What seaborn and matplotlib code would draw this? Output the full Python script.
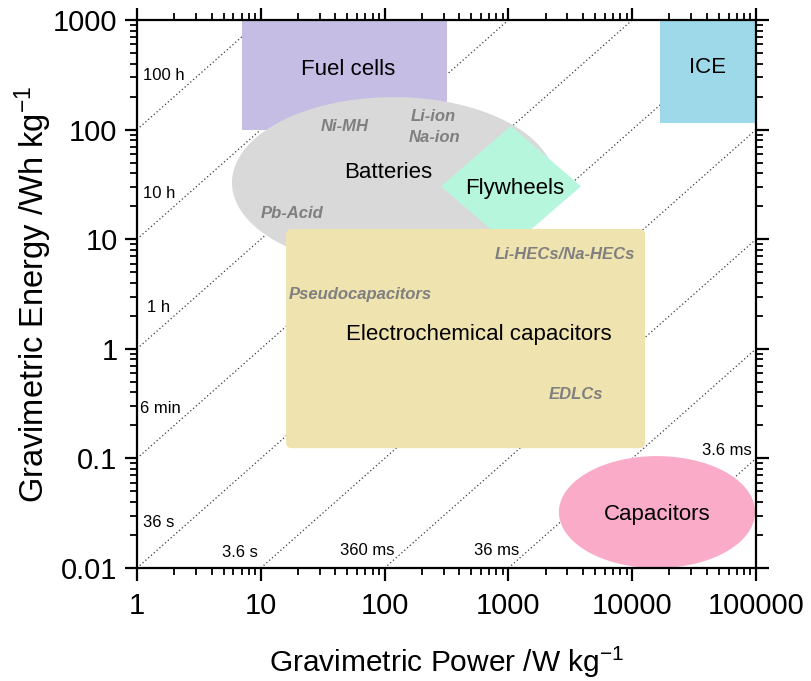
import numpy as np
import pandas as pd
import matplotlib
matplotlib.use("Agg")
import matplotlib.pyplot as plt
from matplotlib.ticker import LogLocator, FuncFormatter, NullFormatter
import seaborn as sns

# ---- Ragone data: operating regions of storage technologies ----
tech_names = ["Fuel cells", "ICE", "Batteries", "Flywheels",
              "Electrochemical capacitors", "Capacitors"]
power_min = [7, 16800, 5.85, 285, 16, 2560]          # W/kg
power_max = [320, 100000, 2380, 3860, 12700, 98200]   # W/kg
energy_min = [100, 115, 5.46, 8.55, 0.124, 0.01]      # Wh/kg
energy_max = [1000, 1000, 198, 108, 12.4, 0.105]      # Wh/kg

# Characteristic discharge times (hours) for the constant-time diagonals
time_hours = [100, 10, 1, 0.1, 0.01, 1e-3, 1e-4, 1e-5, 1e-6]
time_labels = ["100 h", "10 h", "1 h", "6 min", "36 s", "3.6 s",
               "360 ms", "36 ms", "3.6 ms"]

# Sub-technology names
sub_labels = ["Ni-MH", "Li-ion", "Na-ion", "Pb-Acid", "Li-HECs/Na-HECs",
              "Pseudocapacitors", "EDLCs"]

x_ticks = [1, 10, 100, 1000, 10000, 100000]
y_ticks = [0.01, 0.1, 1, 10, 100, 1000]

# ---- layout / style ----
shape_kind = ["rect", "rect", "ellipse", "diamond", "rounded", "ellipse"]
shape_color = ["#C6BDE5", "#9DD9E9", "#D9D9D9", "#B5F6DC", "#EFE3B0", "#F9ABC8"]
name_pos = [(50.6, 350), (40900, 365), (106, 41), (1130, 29.3),
            (579, 1.36), (15850, 0.0305)]
sub_pos = [(47.9, 106), (246, 133), (255, 85.5), (17.9, 17),
           (2865, 7.33), (63.3, 3.16), (3515, 0.387)]
time_label_pos = [(1.12, 315), (1.12, 26.4), (1.2, 2.36), (1.06, 0.288),
                  (1.12, 0.0258), (4.86, 0.014), (43.6, 0.0146),
                  (527, 0.0146), (36600, 0.119)]

sns.set_theme(style="ticks")
plt.rcParams["font.family"] = ["Liberation Sans", "DejaVu Sans"]
plt.rcParams["mathtext.fontset"] = "custom"
plt.rcParams["mathtext.rm"] = "Liberation Sans"
plt.rcParams["mathtext.it"] = "Liberation Sans:italic"
plt.rcParams["text.color"] = "black"
plt.rcParams["axes.labelcolor"] = "black"
plt.rcParams["xtick.color"] = "black"
plt.rcParams["ytick.color"] = "black"

XMIN, XMAX, YMIN, YMAX = 1, 1e5, 0.01, 1000

fig = plt.figure(figsize=(8.11, 6.81), dpi=100)
ax = fig.add_axes([0.1689, 0.1659, 0.7633, 0.8047])
ax.set_xscale("log")
ax.set_yscale("log")
ax.set_xlim(XMIN, XMAX)
ax.set_ylim(YMIN, YMAX)

# ---- constant discharge-time diagonals: E = t * P ----
rows = []
for t, lab in zip(time_hours, time_labels):
    p0 = max(XMIN, YMIN / t)
    p1 = min(XMAX, YMAX / t)
    rows.append({"time": lab, "power": p0, "energy": t * p0})
    rows.append({"time": lab, "power": p1, "energy": t * p1})
lines_df = pd.DataFrame(rows)
sns.lineplot(data=lines_df, x="power", y="energy", units="time",
             estimator=None, sort=False, color="#3a3a3a", lw=0.9,
             linestyle=(0, (1, 2)), ax=ax, zorder=1, legend=False)


def log_ellipse(p0, p1, e0, e1, n=240):
    cx, cy = (np.log10(p0) + np.log10(p1)) / 2, (np.log10(e0) + np.log10(e1)) / 2
    rx, ry = (np.log10(p1) - np.log10(p0)) / 2, (np.log10(e1) - np.log10(e0)) / 2
    th = np.linspace(0, 2 * np.pi, n)
    return 10 ** (cx + rx * np.cos(th)), 10 ** (cy + ry * np.sin(th))


def log_diamond(p0, p1, e0, e1):
    pc, ec = np.sqrt(p0 * p1), np.sqrt(e0 * e1)
    return [p0, pc, p1, pc], [ec, e1, ec, e0]


def log_rounded(p0, p1, e0, e1, rx=0.045, ry=0.045, n=12):
    lx0, lx1, ly0, ly1 = np.log10(p0), np.log10(p1), np.log10(e0), np.log10(e1)
    xs, ys = [], []
    corners = [(lx1 - rx, ly0 + ry, -np.pi / 2, 0),
               (lx1 - rx, ly1 - ry, 0, np.pi / 2),
               (lx0 + rx, ly1 - ry, np.pi / 2, np.pi),
               (lx0 + rx, ly0 + ry, np.pi, 1.5 * np.pi)]
    for cx, cy, a0, a1 in corners:
        a = np.linspace(a0, a1, n)
        xs.extend(cx + rx * np.cos(a))
        ys.extend(cy + ry * np.sin(a))
    return 10 ** np.array(xs), 10 ** np.array(ys)


for kind, col, p0, p1, e0, e1 in zip(shape_kind, shape_color, power_min,
                                     power_max, energy_min, energy_max):
    if kind == "rect":
        xs, ys = [p0, p1, p1, p0], [e0, e0, e1, e1]
    elif kind == "ellipse":
        xs, ys = log_ellipse(p0, p1, e0, e1)
    elif kind == "diamond":
        xs, ys = log_diamond(p0, p1, e0, e1)
    else:
        xs, ys = log_rounded(p0, p1, e0, e1)
    ax.fill(xs, ys, color=col, lw=0, zorder=2)

for name, (x, y) in zip(tech_names, name_pos):
    ax.text(x, y, name, fontsize=16, ha="center", va="center",
            color="black", zorder=4)

for name, (x, y) in zip(sub_labels, sub_pos):
    ax.text(x, y, name, fontsize=12, ha="center", va="center",
            color="#7f7f7f", fontweight="bold", fontstyle="italic", zorder=4)

for lab, (x, y) in zip(time_labels, time_label_pos):
    ax.text(x, y, lab, fontsize=12, ha="left", va="center",
            color="black", zorder=3)

# ---- axes styling ----
for sp in ax.spines.values():
    sp.set_linewidth(1.6)
    sp.set_color("black")
    sp.set_visible(True)

ax.xaxis.set_minor_locator(LogLocator(base=10, subs=np.arange(2, 10), numticks=20))
ax.yaxis.set_minor_locator(LogLocator(base=10, subs=np.arange(2, 10), numticks=20))
ax.set_xticks(x_ticks)
ax.set_yticks(y_ticks)
ax.xaxis.set_major_formatter(FuncFormatter(lambda v, _: f"{v:.0f}"))
ax.yaxis.set_major_formatter(FuncFormatter(lambda v, _: f"{v:g}"))
ax.xaxis.set_minor_formatter(NullFormatter())
ax.yaxis.set_minor_formatter(NullFormatter())
ax.set_xlim(XMIN, XMAX)
ax.set_ylim(YMIN, YMAX)

ax.tick_params(which="major", direction="out", length=9, width=1.6,
               top=True, right=True, labelsize=21, pad=5,
               colors="black", labelcolor="black")
ax.tick_params(which="minor", direction="out", length=5, width=1.3,
               top=True, right=True, colors="black")
ax.tick_params(axis="x", which="major", pad=8)

ax.set_xlabel("Gravimetric Power /W kg$^{-1}$", fontsize=21.5, labelpad=18,
              color="black")
ax.set_ylabel("Gravimetric Energy /Wh kg$^{-1}$", fontsize=23.5, labelpad=-1,
              color="black")
ax.grid(False)

fig.savefig("out.png", dpi=100)
